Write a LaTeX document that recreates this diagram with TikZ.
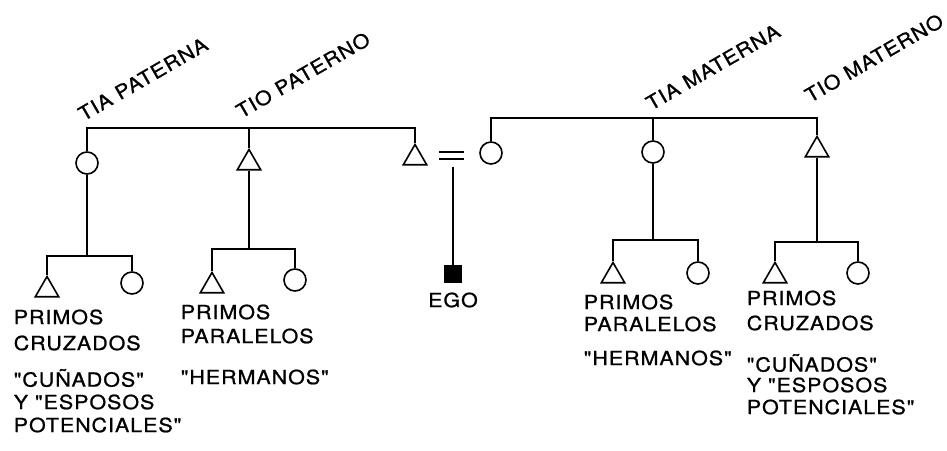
\documentclass[tikz,border=0pt]{standalone}
\usepackage{fontspec}
\newfontfamily\lab{TeX Gyre Heros}[LetterSpace=5,Ligatures=TeXOff,FakeStretch=1.1,FakeBold=1]
\usetikzlibrary{shapes.geometric}
\begin{document}
\begin{tikzpicture}[x=1pt,y=-1pt,line width=1.6pt,
  fem/.style={circle,draw,minimum size=22pt,inner sep=0pt},
  mal/.style={regular polygon,regular polygon sides=3,draw,minimum size=27pt,inner sep=0pt},
  egobox/.style={rectangle,fill=black,draw,minimum size=17pt,inner sep=0pt},
  txt/.style={anchor=west,inner sep=0pt,font=\lab\fontsize{19.5}{24}\selectfont},
  rlab/.style={inner sep=0pt,rotate=30,font=\lab\fontsize{19.5}{24}\selectfont}]
\useasboundingbox (0,0) rectangle (947,450);
% generation 1
\node[fem] (tp) at (87,163) {};
\node[mal] (tpo) at (249,163) {};
\node[mal] (fa) at (415,158) {};
\node[fem] (mo) at (491,153) {};
\node[fem] (tm) at (653,152) {};
\node[mal] (tmo) at (817,150) {};
\coordinate (pb) at (0,128);
\coordinate (mb) at (0,118);
\draw (tp.north) |- (fa.north |- pb) -- (fa.north);
\draw (tpo.north) -- (tpo.north |- pb);
\draw (mo.north) |- (tmo.north |- mb) -- (tmo.north);
\draw (tm.north) -- (tm.north |- mb);
% marriage sign and ego
\coordinate (e1a) at (439,152); \coordinate (e1b) at (464,152);
\coordinate (e2a) at (439,159); \coordinate (e2b) at (464,159);
\draw (e1a) -- (e1b);
\draw (e2a) -- (e2b);
\node[egobox] (ego) at (453,274) {};
\coordinate (eqbot) at (453,167);
\draw (eqbot) -- (ego.north);
\node[txt,anchor=center] (egot) at (453,300) {EGO};
% generation 2
\node[mal] (c1t) at (47,290) {};
\node[fem] (c1c) at (132,283) {};
\node[mal] (c2t) at (212,286) {};
\node[fem] (c2c) at (295,280) {};
\node[mal] (c3t) at (613,276) {};
\node[fem] (c3c) at (698,273) {};
\node[mal] (c4t) at (775,276) {};
\node[fem] (c4c) at (858,273) {};
\coordinate (b1) at (0,256);
\coordinate (b2) at (0,249);
\coordinate (b3) at (0,240);
\coordinate (b4) at (0,242);
\draw (tp.south) -- (tp.south |- b1);
\draw (c1t.north) |- (c1c.north |- b1) -- (c1c.north);
\draw (tpo.south) -- (tpo.south |- b2);
\draw (c2t.north) |- (c2c.north |- b2) -- (c2c.north);
\draw (tm.south) -- (tm.south |- b3);
\draw (c3t.north) |- (c3c.north |- b3) -- (c3c.north);
\draw (tmo.south) -- (tmo.south |- b4);
\draw (c4t.north) |- (c4c.north |- b4) -- (c4c.north);
% rotated labels
\node[rlab] (l1) at (143,79) {TIA PATERNA};
\node[rlab] (l2) at (303,75) {TIO PATERNO};
\node[rlab] (l3) at (713,67) {TIA MATERNA};
\node[rlab] (l4) at (874,58) {TIO MATERNO};
% texts
\node[txt] (t1a) at (13,317) {PRIMOS};
\node[txt] (t1b) at (13,343) {CRUZADOS};
\node[txt] (t1c) at (13,378) {"CUÑADOS"};
\node[txt] (t1d) at (13,402) {Y "ESPOSOS};
\node[txt] (t1e) at (13,425) {POTENCIALES"};
\node[txt] (t2a) at (180,312) {PRIMOS};
\node[txt] (t2b) at (180,336) {PARALELOS};
\node[txt] (t2c) at (180,377) {"HERMANOS"};
\node[txt] (t3a) at (583,302) {PRIMOS};
\node[txt] (t3b) at (583,324) {PARALELOS};
\node[txt] (t3c) at (583,358) {"HERMANOS"};
\node[txt] (t4a) at (746,298) {PRIMOS};
\node[txt] (t4b) at (746,323) {CRUZADOS};
\node[txt] (t4c) at (746,363) {"CUÑADOS"};
\node[txt] (t4d) at (746,385) {Y "ESPOSOS};
\node[txt] (t4e) at (746,407) {POTENCIALES"};
\end{tikzpicture}
\end{document}
